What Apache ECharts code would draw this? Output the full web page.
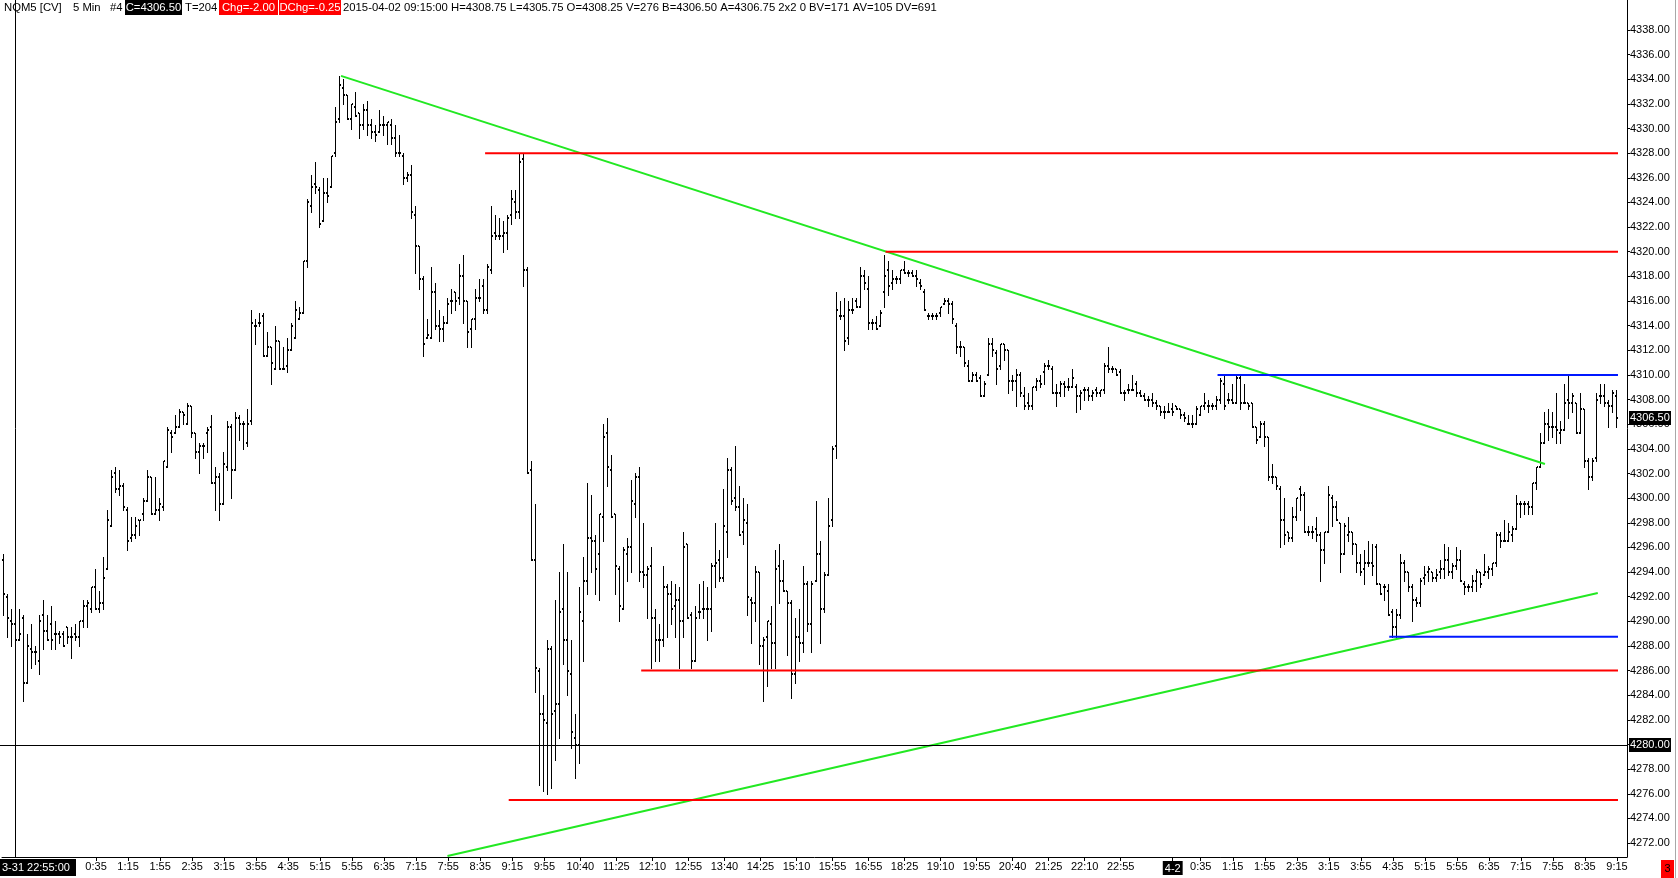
<!DOCTYPE html>
<html><head><meta charset="utf-8">
<script src="https://cdn.jsdelivr.net/npm/echarts@6.0.0/dist/echarts.min.js"></script>
<style>html,body{margin:0;padding:0;background:#fff;overflow:hidden}#c{width:1678px;height:878px}</style>
</head><body><div id="c"></div>
<script>
// ---------------- data (NQM5, 5 min bars) ----------------
const opens = [
4295,4292,4290,4289.75,4288.5,4290.25,4285,4287.75,4287.5,4286.75,
4290.5,4289.25,4289.75,4289,4289,4289,4289.5,4288.75,4289,4288.75,
4290,4291.25,4291,4292.75,4291,4291.5,4294.25,4297.75,4302,4300.75,
4301,4299,4296.75,4297,4298.25,4298.75,4299.75,4301.75,4298.75,4299,
4299.25,4302.5,4305.25,4305.25,4305.75,4307,4306,4307.5,4305.25,4303.75,
4304.25,4305.25,4305.75,4301.25,4301.75,4299.5,4302.5,4305.75,4302.25,4306.5,
4306,4304.5,4306.25,4314,4314.25,4314.75,4311.5,4312.25,4310.5,4312.75,
4310.5,4310.75,4312,4313,4314.5,4315,4319.25,4323.75,4325.5,4325,
4322.5,4324.75,4325.25,4328,4330.75,4333.25,4332.75,4330.75,4331.75,4331.25,
4330.25,4331.5,4330.25,4329.75,4329.75,4330.25,4330.25,4330.25,4329.25,4328,
4327.75,4326,4326.25,4323,4320.5,4317.75,4313,4313,4316.75,4314,
4313.75,4314.25,4316,4316.75,4316.25,4318,4316,4313.75,4314.5,4316.25,
4317.25,4315.25,4318.5,4321.5,4321.25,4321.25,4321.5,4323,4324,4323.25,
4327.5,4318.5,4302.25,4295,4286,4282.5,4281.75,4287.75,4282.75,4283.25,
4291,4288.5,4285.75,4280.5,4280,4290,4293.25,4296.75,4296.5,4295.5,
4298.5,4305.25,4302.25,4298.75,4294.25,4291,4295.5,4296,4299.5,4301.75,
4294,4293.75,4294.5,4290.25,4288.5,4288.5,4292.75,4292.25,4291.25,4291.75,
4290,4296.25,4290.5,4286.75,4290.75,4291,4291,4291,4294.5,4295,
4293.5,4297.25,4302.25,4300,4299.25,4297.25,4298,4291.75,4291.5,4294,
4288,4288.75,4289.75,4288.25,4294.5,4293.25,4292.5,4291.5,4285.75,4288.75,
4288.25,4293,4289.75,4293.25,4295.5,4291,4293.75,4298.25,4304.25,4314.75,
4314.75,4313,4315.25,4316,4315.5,4318,4317,4314.25,4314.25,4314,
4316.75,4318.5,4317.5,4317.75,4317.75,4318.5,4318.25,4318.25,4318,4317.5,
4316.75,4314.75,4314.75,4314.75,4315,4315.75,4316,4315.75,4314,4312.25,
4312.25,4310.75,4309.5,4310,4309.75,4308.25,4310,4312.5,4311.75,4310.75,
4312.5,4312,4309.5,4309.5,4310,4308.25,4307.75,4307.5,4309,4309.5,
4310.25,4310.75,4310.5,4308.5,4308.5,4309.25,4309,4309,4309,4308.25,
4308.75,4308.75,4308.25,4308.75,4308.5,4308.75,4310.75,4310.5,4310.5,4310.25,
4308.5,4308.75,4308.75,4309.25,4308.5,4308.25,4308,4308,4307.75,4307.5,
4307,4307,4307.25,4307.5,4307.25,4306.75,4306,4306,4306,4306.75,
4307.5,4307.5,4307.5,4307.5,4308,4309.25,4308,4308,4307.75,4309.75,
4307.75,4307.75,4307.75,4305.75,4305,4306,4305,4301.75,4301.75,4300.75,
4298.25,4297.25,4296.75,4298.5,4300.75,4300.25,4297.25,4297.25,4297.5,4297,
4295.75,4297.25,4300,4299.25,4298,4295.5,4297,4297.25,4296.25,4294.75,
4294.25,4294.75,4294.75,4296,4293,4292.75,4292.5,4290.75,4289.5,4290.5,
4294.75,4294,4292.75,4291.75,4291.5,4293.5,4294,4294,4293.5,4294,
4294.25,4295,4294,4294.5,4295,4293,4292.75,4292.75,4293.25,4294,
4293.75,4294,4294.25,4294.75,4297,4296.5,4296.5,4297,4297.5,4299.5,
4299.5,4299.5,4299.25,4301.25,4302.5,4304.5,4306,4305.75,4305.75,4305.25,
4305.5,4308,4307.75,4307.75,4305.25,4307.25,4303,4301.75,4303.25,4308.25,
4308.25,4307.75,4307.5,4308.25];
const highs = [
4295.5,4292.25,4291,4290,4291,4290.5,4289,4289.75,4288,4290.5,
4291.75,4290.5,4291.25,4290,4289.25,4289.25,4289.5,4289.5,4289.75,4290,
4291.75,4291.75,4292.75,4294.25,4292.5,4295.25,4299,4302.25,4302.5,4302.25,
4301.25,4299.25,4298.5,4298.5,4298.25,4300,4302.25,4301.75,4301.75,4300,
4303,4305.75,4305.5,4306.75,4307.25,4307,4307.75,4307.5,4305.25,4304.5,
4304.5,4305.75,4306.75,4302.5,4302,4303.75,4306.25,4306,4307,4306.75,
4306.25,4307.25,4315.25,4314.5,4315,4315,4313.5,4312.25,4314,4312.75,
4312.25,4313,4314.25,4316,4315.5,4319.25,4324.25,4326.25,4327.25,4325.25,
4326,4326,4327.75,4331.75,4334.25,4334,4332.75,4332,4333,4331.25,
4332,4332.25,4330.75,4330.25,4331.5,4331,4330.5,4330.75,4330.25,4329.5,
4328,4326.5,4327,4323.75,4320.5,4318,4314.5,4318.75,4317.5,4315.25,
4314.75,4316.25,4317,4316.75,4319,4319.75,4316,4314.5,4317,4317.75,
4317.75,4319,4323.75,4323,4322.75,4322.5,4323,4325,4325,4328,
4328,4318.75,4303,4299.5,4286.25,4284,4288.5,4288,4291.75,4294,
4296.25,4294,4288.5,4282.5,4292.75,4295.25,4301.25,4300.25,4297,4298.75,
4306,4306.5,4303.5,4298.75,4294.5,4296,4296.75,4301.5,4302,4302.5,
4298,4294.5,4296,4291,4289.75,4294.5,4293,4293.25,4293,4292.75,
4297.25,4296.25,4290.75,4291.25,4293,4293.25,4292.75,4294.75,4298,4295.75,
4300.75,4303.25,4302.5,4304.25,4301,4300,4299.5,4292,4294.5,4294,
4288.75,4290,4291.25,4295.75,4296.25,4295,4292.5,4291.75,4290.25,4291,
4294.5,4293.25,4293.25,4299.75,4296.5,4294,4300,4304.25,4316.75,4316,
4316.25,4316,4316.25,4316.25,4318.75,4318.5,4318,4314.5,4314.75,4315.25,
4319.75,4319.25,4318.5,4318,4318.5,4319.25,4318.5,4318.5,4318.5,4317.75,
4317,4315,4315,4315,4315.5,4316.25,4316.25,4316,4314.25,4312.75,
4312.25,4311.25,4310.25,4310.25,4310,4309.5,4313,4313,4312,4312.5,
4312.5,4312,4310,4310.5,4310.25,4309,4308.5,4309,4309.75,4310,
4311,4311.25,4310.75,4309.25,4309.5,4309.5,4309.75,4310.5,4309.25,4308.75,
4309,4309,4308.75,4309,4308.75,4311,4312.25,4310.75,4310.5,4310.5,
4308.75,4309.25,4310,4309.5,4308.75,4308.5,4308.25,4308.5,4308,4307.5,
4307.5,4307.75,4307.75,4307.5,4307.25,4307,4306.75,4306.75,4307.5,4307.5,
4308.5,4308,4307.75,4308.25,4309.75,4310,4308.5,4309.25,4310,4310,
4309.25,4307.75,4307.75,4305.75,4306.25,4306.25,4305,4302.75,4301.75,4301,
4300,4297.25,4299.25,4300,4301,4300.5,4297.75,4297.75,4298.5,4297.25,
4297.25,4301,4300.25,4299.75,4298,4298,4298.5,4297.25,4296.25,4295.5,
4295.75,4296.5,4296.25,4296.25,4293,4293,4293,4291,4291,4295.5,
4295,4294,4293,4292,4293.5,4294.5,4294.5,4294,4294.25,4295,
4296.25,4296,4294.75,4296,4295.75,4293.25,4293,4293.75,4294.25,4294,
4295.5,4294.5,4294.75,4297.25,4297.25,4298.25,4298,4297.75,4300.25,4299.75,
4299.75,4299.75,4301.25,4302.5,4305.25,4307,4307.25,4307,4308.5,4306.25,
4309.25,4310,4308.5,4307.75,4308.5,4307.25,4303.25,4303.25,4308.5,4309.25,
4309.25,4308,4308.75,4308.75];
const lows = [
4290.5,4288.75,4288,4288.25,4288.5,4283.5,4285,4286.25,4286.5,4285.75,
4287.75,4288.5,4287.75,4287.75,4288.25,4288,4288.25,4287,4288.5,4288,
4289.5,4289.5,4290.75,4291,4290.75,4291,4294.25,4297.75,4300.5,4300.25,
4299,4295.75,4296.5,4296.75,4297,4298.25,4299.75,4298.75,4298.75,4298.25,
4299,4302.5,4303.75,4305.25,4305.75,4306,4306,4305,4303.25,4302,
4303.25,4303.75,4301.25,4299,4298.25,4299.5,4302.25,4300,4302.25,4304.75,
4304,4304.25,4306,4312.5,4314,4311.5,4311.5,4309.25,4310.5,4310.5,
4310.5,4310.25,4312,4313,4314.5,4315,4318.75,4323.25,4324.75,4322,
4322.5,4324,4325.25,4327.75,4330.5,4332,4330.75,4330,4331,4329.25,
4330,4329.5,4329.25,4329,4329.75,4329.5,4328.75,4328.75,4327.75,4327.75,
4325.5,4325.75,4322.75,4318.25,4317,4311.5,4313,4313,4313.75,4312.75,
4312.75,4314.25,4315,4315.25,4315.75,4314.25,4312.25,4312.25,4313.75,4316,
4315,4315,4318.25,4321,4321,4320,4320.25,4322.25,4322.75,4322.75,
4317.25,4302,4295,4284.25,4276.75,4276.25,4276,4276.5,4278.75,4280.5,
4286.5,4284,4279.75,4277.25,4278.5,4286.75,4292.25,4294,4292.25,4291.75,
4296.5,4301,4298.5,4292.25,4290,4291,4293.25,4294,4298.5,4293.25,
4292.75,4290.25,4286.25,4286.75,4286.75,4288,4288.75,4289.75,4288.75,4286.25,
4288.75,4290.25,4286.25,4286.75,4290.25,4290.25,4288.5,4289.25,4292.75,4293.25,
4293.25,4295.25,4299.5,4299,4297,4296.25,4290.5,4288.25,4290,4286.5,
4283.5,4284.75,4286.25,4286.25,4291.5,4292.5,4287.25,4283.75,4285,4286.75,
4287.5,4289.25,4287.5,4293.25,4288.25,4290.75,4293.75,4297.75,4303.25,4314.5,
4312,4312.5,4315,4315.5,4315.5,4317,4313.75,4313.75,4313.75,4314,
4315.5,4316.5,4317,4317.5,4317.5,4318.25,4318,4318,4317.25,4317,
4315.25,4314.5,4314.5,4314.5,4314.75,4315.75,4315,4314.25,4311.75,4311.5,
4310.75,4309.5,4309.5,4309.5,4308.25,4308.25,4310,4311.5,4309.25,4310.5,
4311.25,4308.5,4308.75,4307.5,4308.25,4307.25,4307.25,4307.25,4308.75,4309,
4309.25,4310.5,4308.5,4307.5,4308.25,4308.25,4308.75,4309,4307,4307.25,
4308,4308,4308,4308.25,4308.25,4308.5,4310.25,4310.25,4310,4308.5,
4308,4308.5,4308.75,4308.25,4308.25,4308,4307.5,4307.5,4307.25,4306.75,
4306.5,4307,4306.75,4307.25,4306.5,4306.25,4306,4305.75,4306,4306.75,
4307.25,4307,4307.25,4307.25,4307.75,4307.25,4307.75,4307.75,4307.75,4307.25,
4307.75,4307.25,4305.75,4304.5,4305,4304.25,4301.5,4301.25,4300.75,4296,
4296.25,4296.5,4296.5,4298.25,4299,4297.25,4297,4296.75,4296.5,4293.25,
4294.75,4297.25,4297.75,4298.25,4294,4295.5,4296.5,4295.5,4294,4293.75,
4293,4294.5,4293.75,4293,4292.25,4291.75,4290.5,4288.75,4288.75,4290.25,
4293.25,4292.5,4290,4291.25,4291.25,4293,4293.25,4293.25,4293.25,4293.5,
4293.5,4293.75,4293.5,4294.25,4293.25,4292.25,4292.5,4292.5,4292.5,4292.75,
4293.75,4293.5,4293.75,4294.5,4296,4296.5,4296.5,4296.5,4297.5,4298.5,
4298.75,4298.75,4298.75,4300.75,4302.5,4304.5,4304.75,4305,4304.5,4304.5,
4305.5,4306.5,4307,4305.25,4305.25,4302.5,4300.75,4301.5,4303,4307.75,
4307.5,4305.75,4307,4305.75];
const closes = [
4292.25,4290.25,4289.75,4288.5,4289,4285,4288,4287.5,4287.5,4290,
4289.25,4288.5,4288.5,4289,4288.75,4288,4288.75,4288.75,4288.75,4290,
4291.25,4291.5,4292.75,4291,4291.5,4293.5,4298.25,4301.75,4300.75,4301,
4299.25,4296.5,4297,4297.75,4298.25,4299.75,4301.75,4298.75,4299,4299.5,
4303,4305.5,4305,4305.75,4307,4306.75,4307.5,4305.25,4303.75,4304.25,
4304.25,4305.5,4301.25,4301.75,4299.5,4302.75,4305.75,4302.25,4306.5,4306,
4306,4306,4314.25,4314,4314.25,4311.5,4312.25,4311,4312.75,4310.5,
4310.5,4312,4314,4315.25,4315,4319.25,4324,4325.25,4325.25,4322.25,
4324.75,4324.5,4327.75,4330.5,4333.5,4332.75,4330.75,4332,4331,4330.25,
4331.5,4330.25,4329.75,4329.5,4330.25,4330.25,4330.5,4329.25,4328,4328,
4326,4326.25,4323.25,4320.5,4317.75,4312.5,4313.25,4316.75,4314,4313.75,
4314.25,4315.75,4316,4316,4318,4316,4313.5,4314.5,4316.25,4316.25,
4315.25,4318.75,4321.25,4321.25,4321.25,4321.5,4322.75,4324.25,4323.25,4327.25,
4318.5,4302,4295,4286.25,4282.5,4282,4287.75,4282.5,4283.25,4290.75,
4288.5,4286,4281,4280,4290.75,4293.25,4296.75,4296.5,4294.25,4298.75,
4305,4302.5,4298.5,4294.5,4291.25,4295.75,4296,4299.75,4301.75,4294,
4293.75,4294.25,4290.25,4288.5,4288.5,4292.75,4292.25,4291,4291.75,4290,
4296,4290.25,4286.75,4290.25,4290.75,4291,4291,4294.5,4294.75,4293.5,
4297.75,4302.25,4299.75,4299.25,4297,4298.25,4292,4291.5,4294,4288,
4288.5,4290,4288.25,4294.25,4293.25,4292.5,4291.5,4285.75,4288.75,4288.25,
4293,4289.75,4293,4295.5,4291,4293.75,4297.75,4304,4315.25,4314.75,
4312.75,4315.25,4315.25,4315.5,4318,4317.5,4314.25,4314.25,4313.75,4315,
4318,4317.25,4317.75,4317.75,4318.5,4318.25,4318.25,4318,4317.75,4317.25,
4315.25,4314.75,4314.75,4314.75,4315.5,4316,4315.75,4314.5,4312.25,4312.25,
4311,4309.5,4310,4309.5,4308.25,4309.25,4312.5,4312,4310.5,4312.5,
4312,4309.5,4309.5,4310,4308.5,4307.5,4307.5,4309,4309.5,4309.25,
4310.75,4310.75,4308.5,4308.5,4309.25,4309,4309,4309.75,4308.25,4308.5,
4308.75,4308.25,4308.5,4308.5,4308.75,4310.75,4310.5,4310.5,4310,4308.5,
4308.5,4308.75,4308.75,4308.5,4308.25,4308,4308,4307.75,4307.5,4307,
4307,4307,4307,4307.25,4306.75,4306.5,4306,4306,4307.25,4307.5,
4307.75,4307.5,4307.5,4308,4309.5,4307.5,4308,4307.75,4309.75,4307.75,
4307.75,4307.5,4305.75,4304.75,4306,4305,4301.75,4301.75,4301,4298.25,
4297,4296.75,4298.5,4300,4300.25,4297.25,4297.25,4297.25,4297,4295.75,
4297.25,4300.25,4299.25,4298.25,4295.5,4297.75,4297.25,4296.25,4294.75,4294,
4294.75,4294.75,4294.5,4293,4292.25,4292.75,4290.5,4289.5,4290.5,4294.75,
4294,4292.75,4291.75,4291.5,4293.25,4293.75,4294.25,4293.5,4293.75,4294.25,
4295,4294,4294.5,4295,4293.25,4292.75,4292.75,4293.25,4294,4293,
4294,4294.25,4294.75,4297,4296.5,4296.5,4297.25,4297.5,4299.5,4299.5,
4299.5,4299.25,4301.25,4302.5,4304.5,4306,4305.75,4305.75,4305.5,4305.5,
4307.75,4307.75,4308.25,4305.25,4307.25,4303,4301.75,4303,4308,4308.25,
4307.75,4307.5,4308.5,4306.5];

// time categories: 2015-03-31 22:40 .. 2015-04-02 09:15, with the two session breaks
function buildCategories() {
  const out = [];
  const start = Date.UTC(2015, 2, 31, 22, 40), end = Date.UTC(2015, 3, 2, 9, 15);
  const breaks = [[Date.UTC(2015, 3, 1, 16, 15), Date.UTC(2015, 3, 1, 16, 35)],
                  [Date.UTC(2015, 3, 1, 17, 15), Date.UTC(2015, 3, 1, 18, 5)]];
  for (let t = start; t <= end; t += 300000) {
    if (breaks.some(b => t > b[0] && t < b[1])) continue;
    const d = new Date(t);
    out.push((d.getUTCMonth() + 1) + '-' + d.getUTCDate() + ' ' + d.getUTCHours() + ':' + String(d.getUTCMinutes()).padStart(2, '0'));
  }
  return out;
}
const categories = buildCategories();

const xTickLabels = [
 '4-1 0:35','4-1 1:15','4-1 1:55','4-1 2:35','4-1 3:15','4-1 3:55','4-1 4:35','4-1 5:15','4-1 5:55','4-1 6:35',
 '4-1 7:15','4-1 7:55','4-1 8:35','4-1 9:15','4-1 9:55','4-1 10:40','4-1 11:25','4-1 12:10','4-1 12:55','4-1 13:40',
 '4-1 14:25','4-1 15:10','4-1 15:55','4-1 16:55','4-1 18:25','4-1 19:10','4-1 19:55','4-1 20:40','4-1 21:25','4-1 22:10',
 '4-1 22:55','4-2 0:00','4-2 0:35','4-2 1:15','4-2 1:55','4-2 2:35','4-2 3:15','4-2 3:55','4-2 4:35','4-2 5:15',
 '4-2 5:55','4-2 6:35','4-2 7:15','4-2 7:55','4-2 8:35','4-2 9:15'];
const yTickValues = [4272,4274,4276,4278,4280,4282,4284,4286,4288,4290,4292,4294,4296,4298,4300,4302,4304,4306,
 4308,4310,4312,4314,4316,4318,4320,4322,4324,4326,4328,4330,4332,4334,4336,4338];

// drawn studies: [startIndex, startPrice, endIndex, endPrice]
const greenLines = [[84.2, 4334.27, 385.0, 4302.77], [110.8, 4270.95, 398.2, 4292.3]];
// horizontal levels: [price, startIndex]
const redLevels = [[4328, 120.2], [4320, 220.25], [4286, 159.2], [4275.5, 126.1]];
const blueLevels = [[4310, 303.2], [4288.75, 346.1]];
const levelEnd = 403.25;
const crossIndex = 3, crossPrice = 4280, crossLabel = '3-31 22:55:00';

const header = {
  sym: 'NQM5 [CV]', per: '5 Min', num: '#4', c: 'C=4306.50', t: 'T=204', chg: 'Chg=-2.00', dchg: 'DChg=-0.25',
  rest: '2015-04-02 09:15:00 H=4308.75 L=4305.75 O=4308.25 V=276 B=4306.50 A=4306.75 2x2 0 BV=171 AV=105 DV=691'
};

// ---------------- chart ----------------
const FONT = '"Liberation Sans", Arial, sans-serif';
const Y_MIN = 4270.87, Y_MAX = 4340.43;
const X_MIN = -0.5, X_MAX = categories.length + 1.5;

const ohlc = closes.map((c, i) => [i, opens[i], c, lows[i], highs[i]]);
const xTickIdx = xTickLabels.map(s => categories.indexOf(s)).filter(i => i >= 0);

const lineItems = [];
greenLines.forEach(l => lineItems.push([l[0], l[1], l[2], l[3], 0]));
redLevels.forEach(l => lineItems.push([l[1], l[0], levelEnd, l[0], 1]));
blueLevels.forEach(l => lineItems.push([l[1], l[0], levelEnd, l[0], 2]));
lineItems.push([crossIndex, Y_MAX, crossIndex, Y_MIN, 3]);
lineItems.push([X_MIN - 1, crossPrice, X_MAX, crossPrice, 3]);
const lineColors = ['#22e822', '#ff0000', '#0018ff', '#000000'];
const lineWidths = [2, 2, 2, 1];

const chart = echarts.init(document.getElementById('c'));

function renderBar(params, api) {
  const i = api.value(0);
  const pO = api.coord([i, api.value(1)]);
  const pC = api.coord([i, api.value(2)]);
  const pL = api.coord([i, api.value(3)]);
  const pH = api.coord([i, api.value(4)]);
  const x = Math.round(pH[0]) - 1;
  const yT = Math.round(pH[1]);
  const yB = Math.max(Math.round(pL[1]), yT + 1);
  const st = { fill: '#000' };
  return { type: 'group', children: [
    { type: 'rect', shape: { x: x, y: yT, width: 1, height: yB - yT + 1 }, style: st },
    { type: 'rect', shape: { x: x - 1, y: Math.round(pO[1]) - 1, width: 1, height: 2 }, style: st },
    { type: 'rect', shape: { x: x + 1, y: Math.round(pC[1]) - 1, width: 1, height: 2 }, style: st }
  ]};
}
function renderLine(params, api) {
  const a = api.coord([api.value(0), api.value(1)]);
  const b = api.coord([api.value(2), api.value(3)]);
  const k = api.value(4);
  const s = { x1: a[0], y1: a[1], x2: b[0], y2: b[1] };
  if (k === 3) {
    if (Math.abs(s.x1 - s.x2) < 0.01) { s.x1 = s.x2 = Math.round(s.x1) - 0.5; }
    else { s.y1 = s.y2 = Math.round(s.y1) + 0.5; }
  }
  return { type: 'line', shape: s, style: { stroke: lineColors[k], lineWidth: lineWidths[k] } };
}

chart.setOption({
  animation: false,
  backgroundColor: '#fff',
  textStyle: { fontFamily: FONT },
  grid: { left: 2, right: 51, top: 0, bottom: 21, containLabel: false },
  xAxis: {
    type: 'value', min: X_MIN, max: X_MAX,
    axisLine: { show: true, onZero: false, lineStyle: { color: '#000', width: 1 } },
    axisTick: { show: true, length: 4, customValues: xTickIdx, lineStyle: { color: '#000' } },
    axisLabel: {
      customValues: xTickIdx, color: '#000', fontSize: 11, fontFamily: FONT, margin: 4,
      formatter: v => {
        const s = categories[Math.round(v)] || '';
        const parts = s.split(' ');
        if (parts[1] === '0:00') return '{d|' + parts[0] + '}';
        return parts[1];
      },
      rich: { d: { color: '#fff', backgroundColor: '#000', fontSize: 11, fontFamily: FONT, padding: [2, 2, 1, 2] } }
    },
    splitLine: { show: false }
  },
  yAxis: {
    type: 'value', position: 'right', min: Y_MIN, max: Y_MAX,
    axisLine: { show: true, onZero: false, lineStyle: { color: '#000', width: 1 } },
    axisTick: { show: true, length: 3, customValues: yTickValues, lineStyle: { color: '#000' } },
    axisLabel: { customValues: yTickValues, color: '#000', fontSize: 11, fontFamily: FONT, margin: 3,
      formatter: v => Number(v).toFixed(2) },
    splitLine: { show: false }
  },
  series: [
    { type: 'custom', name: 'NQM5', renderItem: renderBar, data: ohlc, encode: { x: 0, y: [1, 2, 3, 4] }, z: 2, silent: true },
    { type: 'custom', name: 'studies', renderItem: renderLine, data: lineItems, encode: { x: [0, 2], y: [1, 3] }, z: 3, silent: true, clip: false }
  ]
});

// overlay labels positioned through the axes
const xRight = chart.convertToPixel({ xAxisIndex: 0 }, X_MAX);
const yLast = chart.convertToPixel({ yAxisIndex: 0 }, closes[closes.length - 1]);
const yCross = chart.convertToPixel({ yAxisIndex: 0 }, crossPrice);
const yBottom = chart.convertToPixel({ yAxisIndex: 0 }, Y_MIN);
function txt(x, y, text, fill, align, size) {
  return { type: 'text', x: x, y: y, z: 100, style: { text: text, fill: fill || '#000', align: align || 'left', verticalAlign: 'middle', fontSize: size || 11, fontFamily: FONT } };
}
function box(x, y, w, h, fill) {
  return { type: 'rect', z: 99, shape: { x: x, y: y, width: w, height: h }, style: { fill: fill } };
}
const priceBox = (y, p) => [box(xRight + 2, Math.round(y) - 7, 42, 14, '#000'), txt(xRight + 3, Math.round(y), p.toFixed(2), '#fff')];
const HS = 11.3;

chart.setOption({
  graphic: [
    txt(4, 8, header.sym, '#000', 'left', HS), txt(73, 8, header.per, '#000', 'left', HS), txt(110, 8, header.num, '#000', 'left', HS),
    box(125, 0, 57, 15, '#000'), txt(153.5, 8, header.c, '#fff', 'center', HS),
    txt(185, 8, header.t, '#000', 'left', HS),
    box(219, 0, 59, 15, '#ff0000'), txt(248.5, 8, header.chg, '#fff', 'center', HS),
    box(279, 0, 62, 15, '#ff0000'), txt(310, 8, header.dchg, '#fff', 'center', HS),
    txt(343, 8, header.rest, '#000', 'left', HS),
    ...priceBox(yLast, closes[closes.length - 1]),
    ...priceBox(yCross, crossPrice),
    box(-1, Math.round(yBottom) + 2, 77, 17, '#000'), txt(2, Math.round(yBottom) + 11, crossLabel, '#fff'),
    box(1661, 860, 13, 18, '#ff0000'), txt(1667.5, 869, '3', '#000', 'center'),
    { type: 'line', z: 99, shape: { x1: 1675.5, y1: 0, x2: 1675.5, y2: 878 }, style: { stroke: '#a8a8a8', lineWidth: 1 } }
  ]
});
</script></body></html>
